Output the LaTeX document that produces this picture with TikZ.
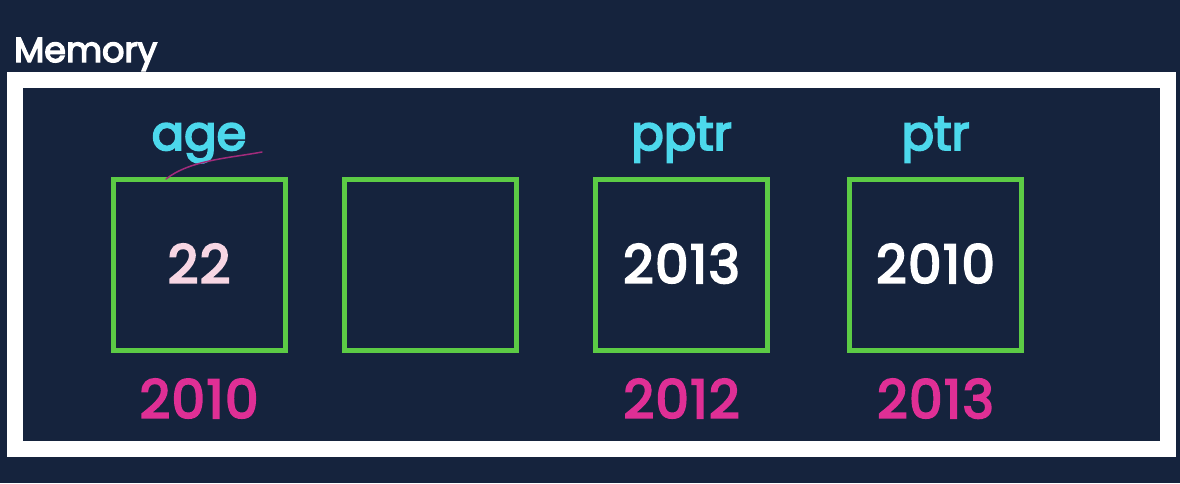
\documentclass[tikz,border=0pt]{standalone}
\usepackage{fontspec}
\setmainfont{Poppins}
\newfontfamily\medfont[FakeBold=4,LetterSpace=3]{Poppins}
\newfontfamily\medfontn[FakeBold=4]{Poppins}
\definecolor{bg}{HTML}{15233D}
\definecolor{grn}{HTML}{5CCB45}
\definecolor{cyn}{HTML}{4CD8EC}
\definecolor{mag}{HTML}{DF2F95}
\definecolor{pinkw}{HTML}{F7D6E3}
\begin{document}
\begin{tikzpicture}[x=1pt,y=-1pt,
  cell/.style={draw=grn,line width=5pt,minimum width=172pt,minimum height=171pt,inner sep=0pt},
  namelbl/.style={text=cyn,font=\medfontn\fontsize{48}{48}\selectfont,anchor=base,inner sep=0pt},
  addrlbl/.style={text=mag,font=\medfont\fontsize{53}{53}\selectfont,anchor=base,inner sep=0pt},
  vallbl/.style={text=white,font=\medfont\fontsize{53}{53}\selectfont,anchor=base,inner sep=0pt}]
\useasboundingbox (0,0) rectangle (1180,483);
\fill[bg] (0,0) rectangle (1180,483);
\node[text=white,font=\medfontn\fontsize{35}{35}\selectfont,anchor=base west,inner sep=0pt] (title) at (14,62) {Memory};
\draw[white,line width=16pt] (15,80) rectangle (1168,449);
\node[cell] (c1) at (199,265) {};
\node[cell] (c2) at (430.5,265) {};
\node[cell] (c3) at (681.5,265) {};
\node[cell] (c4) at (935.5,265) {};
\node[namelbl] (n1) at (199,150) {age};
\node[namelbl] (n3) at (681.5,150) {pptr};
\node[namelbl] (n4) at (935.5,150) {ptr};
\node[vallbl,text=pinkw] (v1) at (199,283) {22};
\node[vallbl] (v3) at (681.5,283) {2013};
\node[vallbl] (v4) at (935.5,283) {2010};
\node[addrlbl] (a1) at (199,418) {2010};
\node[addrlbl] (a3) at (681.5,418) {2012};
\node[addrlbl] (a4) at (935.5,418) {2013};
\draw[mag!70!bg,line width=1.5pt,line cap=round] (166,179) .. controls (190,160) and (230,158) .. (262,152);
\end{tikzpicture}
\end{document}
